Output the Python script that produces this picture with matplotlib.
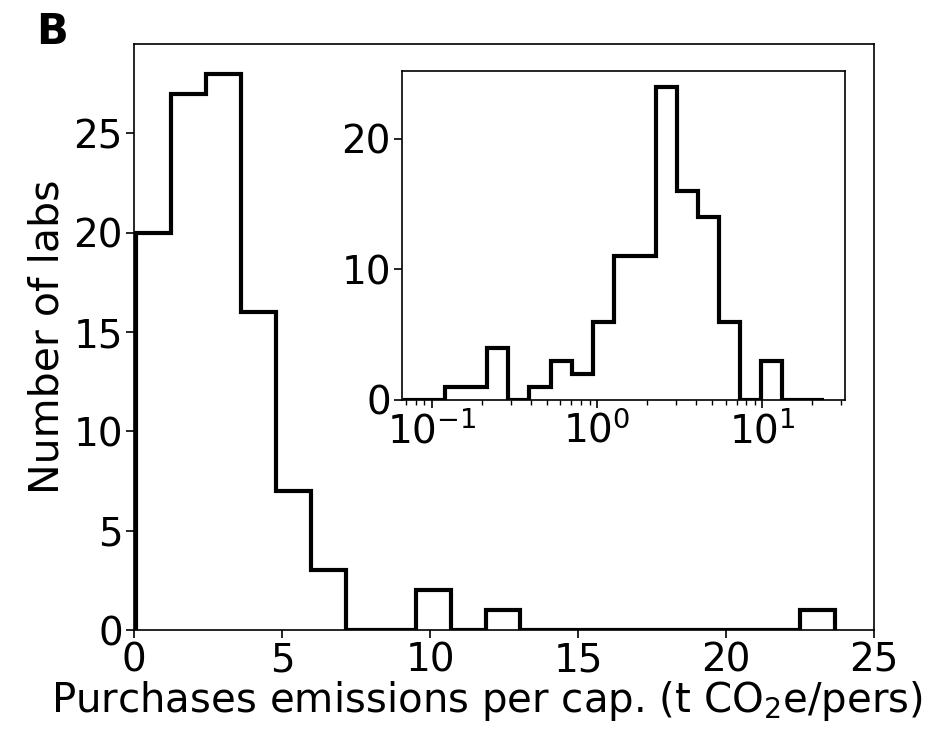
import matplotlib
matplotlib.use("Agg")
import matplotlib.pyplot as plt
import numpy as np

plt.rcParams['font.family'] = ['DejaVu Sans']
plt.rcParams['mathtext.default'] = 'regular'

# main histogram: 20 linear bins between min and max of the data
data_min, data_max = 0.067, 23.68
main_counts = [20, 27, 28, 16, 7, 3, 0, 0, 2, 0, 1, 0, 0, 0, 0, 0, 0, 0, 0, 1]

# inset histogram: 20 log bins over the same range
log_counts = [0, 0, 1, 1, 4, 0, 1, 3, 2, 6, 11, 11, 24, 16, 14, 6, 0, 3, 0, 0]

main_edges = np.linspace(data_min, data_max, len(main_counts) + 1)
log_edges = np.logspace(np.log10(data_min), np.log10(data_max), len(log_counts) + 1)

fig = plt.figure(figsize=(9.48, 7.38), dpi=100)
ax = fig.add_axes([0.1414, 0.1463, 0.7806, 0.7941])

ax.stairs(main_counts, main_edges, color='black', linewidth=3)
ax.set_xlim(0, 25)
ax.set_ylim(0, 29.5)
ax.set_xticks([0, 5, 10, 15, 20, 25])
ax.set_yticks([0, 5, 10, 15, 20, 25])
ax.tick_params(labelsize=28, length=6, width=1.2, pad=2)
ax.set_xlabel("Purchases emissions per cap. (t CO$_2$e/pers)", fontsize=29, labelpad=0)
ax.xaxis.label.set_x(0.477)
ax.set_ylabel("Number of labs", fontsize=29.5, labelpad=4)
for s in ax.spines.values():
    s.set_linewidth(1.2)

ins = fig.add_axes([0.424, 0.458, 0.467, 0.4458])
ins.stairs(log_counts, log_edges, color='black', linewidth=3)
ins.set_xscale('log')
ins.set_xlim(0.0658, 31.6)
ins.set_ylim(0, 25.2)
ins.set_yticks([0, 10, 20])
ins.tick_params(labelsize=28, length=6, width=1.2, pad=2)
ins.tick_params(which='minor', length=3.5, width=1.0)
for s in ins.spines.values():
    s.set_linewidth(1.2)

fig.text(0.038, 0.985, "B", fontsize=30, fontweight='bold', va='top', ha='left')

fig.savefig("out.png", dpi=100)
